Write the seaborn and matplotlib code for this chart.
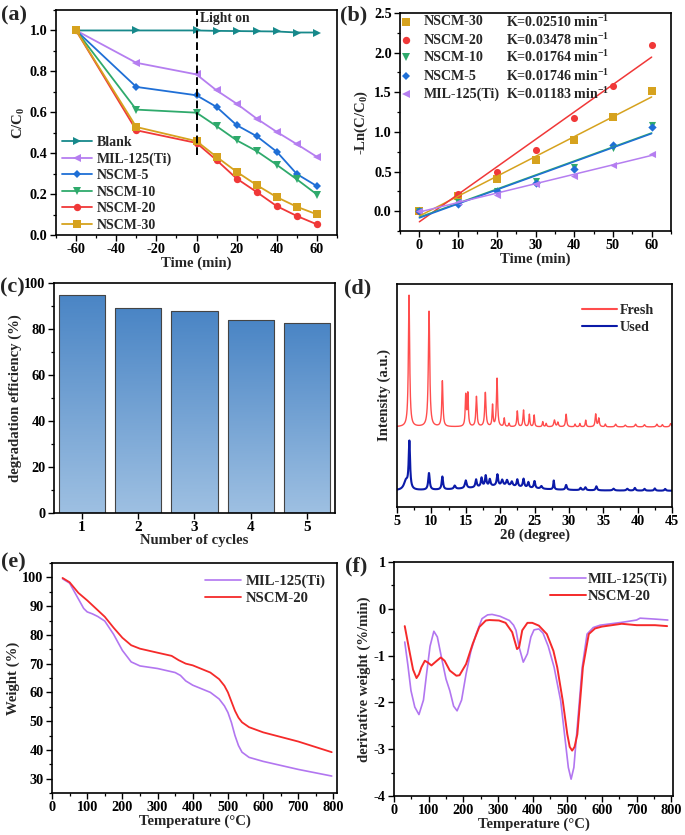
import numpy as np
import matplotlib

matplotlib.use("Agg")
import matplotlib.pyplot as plt
import seaborn as sns
from matplotlib.ticker import MultipleLocator
from matplotlib.colors import LinearSegmentedColormap

# ===================== (a) C/C0 vs time =====================
time_a = [-60, -30, 0, 10, 20, 30, 40, 50, 60]
blank_a = [1.0, 1.0, 1.0, 0.998, 0.997, 0.996, 0.995, 0.99, 0.99]
mil_a = [1.0, 0.842, 0.785, 0.707, 0.642, 0.569, 0.504, 0.444, 0.382]
nscm5_a = [1.0, 0.724, 0.683, 0.626, 0.537, 0.483, 0.407, 0.298, 0.239]
nscm10_a = [1.0, 0.613, 0.598, 0.532, 0.463, 0.410, 0.343, 0.272, 0.198]
nscm20_a = [1.0, 0.512, 0.450, 0.366, 0.276, 0.210, 0.141, 0.093, 0.052]
nscm30_a = [1.0, 0.528, 0.459, 0.382, 0.309, 0.244, 0.185, 0.138, 0.101]

# ===================== (b) kinetics =====================
time_b = [0, 10, 20, 30, 40, 50, 60]
nscm30_b = [0.0, 0.195, 0.40, 0.64, 0.90, 1.185, 1.51]
nscm20_b = [0.0, 0.22, 0.494, 0.77, 1.17, 1.58, 2.10]
nscm10_b = [0.0, 0.11, 0.25, 0.38, 0.56, 0.80, 1.09]
nscm5_b = [0.0, 0.088, 0.25, 0.36, 0.53, 0.84, 1.06]
mil_b = [0.0, 0.12, 0.21, 0.344, 0.45, 0.578, 0.725]
k_labels = ["K=0.02510 min$^{-1}$", "K=0.03478 min$^{-1}$", "K=0.01764 min$^{-1}$",
            "K=0.01746 min$^{-1}$", "K=0.01183 min$^{-1}$"]

# ===================== (c) recycling =====================
cycles = ["1", "2", "3", "4", "5"]
efficiency = [94.9, 89.0, 87.8, 83.9, 82.5]

# ===================== (d) XRD peak tables (2theta, height, half width) =====================
fresh_base = 35.9
fresh_pos = [6.75, 9.66, 11.6, 15.0, 15.3, 16.55, 17.85, 18.9, 19.55, 20.6, 21.3, 22.5, 23.4,
             24.25, 24.95, 26.2, 26.7, 27.9, 28.4, 29.6, 30.9, 31.6, 32.45, 33.9, 34.35, 35.3,
             36.8, 38.2, 39.7, 41.0, 42.8, 43.6, 44.8]
fresh_hgt = [59.0, 52.0, 20.5, 13.8, 14.5, 13.5, 15.3, 9.6, 21.7, 3.8, 1.5, 7.1, 7.5,
             5.6, 5.3, 2.3, 1.5, 3.0, 2.0, 5.7, 1.2, 1.5, 3.0, 5.7, 3.8, 1.2,
             1.2, 0.8, 1.2, 1.0, 1.2, 1.0, 1.5]
fresh_wid = [0.11, 0.12, 0.10, 0.09, 0.09, 0.10, 0.11, 0.08, 0.10, 0.08, 0.08, 0.09, 0.09,
             0.08, 0.08, 0.08, 0.08, 0.12, 0.10, 0.10, 0.08, 0.08, 0.08, 0.10, 0.10, 0.08,
             0.12, 0.12, 0.12, 0.12, 0.12, 0.10, 0.12]

used_base = 7.2
used_pos = [6.3, 6.8, 9.65, 11.6, 13.4, 15.0, 16.5, 17.3, 17.9, 18.5, 19.6, 20.3, 21.0, 21.7,
            22.5, 23.4, 24.1, 25.0, 26.0, 27.8, 29.6, 31.7, 32.4, 34.0, 36.5, 38.5, 39.6,
            41.0, 42.5, 44.0, 20.0]
used_hgt = [4.0, 21.0, 7.5, 5.8, 1.5, 3.5, 3.5, 4.0, 4.8, 3.0, 5.0, 2.5, 2.5, 2.0,
            3.2, 3.8, 2.5, 3.2, 1.2, 4.0, 2.2, 1.0, 1.3, 1.8, 0.8, 0.8, 1.2,
            0.8, 1.0, 0.8, 2.3]
used_wid = [0.35, 0.12, 0.13, 0.12, 0.15, 0.15, 0.12, 0.12, 0.12, 0.12, 0.12, 0.15, 0.15, 0.15,
            0.12, 0.12, 0.12, 0.12, 0.15, 0.08, 0.12, 0.12, 0.12, 0.12, 0.15, 0.15, 0.12,
            0.12, 0.12, 0.12, 5.0]

# ===================== (e) TGA =====================
tga_mil_t = [30, 50, 75, 90, 100, 115, 130, 150, 175, 200, 225, 250, 300, 350, 365, 380, 400,
             450, 475, 490, 500, 510, 520, 530, 540, 560, 600, 700, 795]
tga_mil_w = [99.5, 98.0, 92.5, 89.2, 88.0, 87.3, 86.4, 84.8, 80.2, 74.6, 70.6, 69.2, 68.3, 66.9,
             65.9, 64.0, 62.5, 60.0, 57.7, 55.3, 53.0, 49.5, 45.0, 41.5, 39.2, 37.4, 36.0, 33.2,
             30.9]
tga_nscm_t = [30, 50, 75, 100, 150, 175, 200, 225, 250, 300, 340, 360, 380, 400, 450, 475, 490,
              500, 510, 520, 530, 540, 560, 600, 700, 795]
tga_nscm_w = [99.8, 98.3, 94.6, 92.0, 86.3, 82.5, 79.0, 76.4, 75.2, 73.8, 72.7, 71.2, 70.0, 69.4,
              66.9, 64.6, 62.3, 60.0, 56.8, 53.6, 51.2, 49.6, 47.9, 46.1, 42.9, 39.2]

# ===================== (f) DTG =====================
dtg_mil_t = [31, 40, 49, 60, 72, 85, 94, 104, 115, 125, 137, 150, 161, 172, 182, 195, 208, 222,
             237, 254, 270, 283, 306, 333, 345, 352, 361, 373, 385, 395, 404, 418, 430, 445, 462,
             481, 492, 503, 511, 519, 527, 535, 543, 557, 575, 595, 657, 700, 710, 753, 790]
dtg_mil_v = [-0.71, -1.20, -1.75, -2.10, -2.26, -1.95, -1.39, -0.80, -0.48, -0.60, -1.04, -1.50,
             -1.75, -2.08, -2.18, -1.95, -1.39, -0.90, -0.54, -0.21, -0.13, -0.12, -0.16, -0.25,
             -0.35, -0.46, -0.82, -1.14, -0.96, -0.60, -0.45, -0.43, -0.52, -0.80, -1.25, -1.97,
             -2.68, -3.39, -3.64, -3.39, -2.68, -1.97, -1.25, -0.54, -0.40, -0.35, -0.29, -0.24,
             -0.20, -0.22, -0.24]
dtg_nscm_t = [31, 46, 55, 65, 72, 79, 89, 98, 108, 122, 135, 146, 161, 180, 189, 208, 227, 246,
              265, 275, 303, 322, 341, 355, 361, 370, 385, 399, 418, 441, 460, 471, 487, 500, 507,
              514, 521, 529, 537, 545, 562, 580, 600, 657, 700, 753, 788]
dtg_nscm_v = [-0.37, -0.96, -1.30, -1.48, -1.40, -1.25, -1.11, -1.15, -1.21, -1.12, -1.04, -1.11,
              -1.32, -1.43, -1.42, -1.18, -0.75, -0.39, -0.25, -0.24, -0.25, -0.30, -0.50, -0.86,
              -0.82, -0.46, -0.30, -0.30, -0.36, -0.54, -0.90, -1.25, -1.97, -2.68, -2.95, -3.03,
              -2.95, -2.68, -1.97, -1.25, -0.54, -0.42, -0.38, -0.32, -0.35, -0.35, -0.37]

# ===================== colours =====================
c_blank = "#17898b"
c_mil = "#b57ef0"
c_n5 = "#1f6fd6"
c_n10 = "#2faa6c"
c_n20 = "#f03838"
c_n30 = "#d6a21e"

sns.set_theme(style="ticks")
plt.rcParams.update({
    "font.family": ["Liberation Serif", "DejaVu Serif"],
    "font.weight": "bold",
    "axes.labelweight": "bold",
    "axes.unicode_minus": False,
    "mathtext.fontset": "custom",
    "mathtext.rm": "Liberation Serif:bold",
    "mathtext.it": "Liberation Serif:italic:bold",
    "mathtext.bf": "Liberation Serif:bold",
    "axes.linewidth": 1.2,
    "axes.edgecolor": "black",
    "xtick.color": "black",
    "ytick.color": "black",
    "xtick.major.size": 4,
    "ytick.major.size": 4,
    "xtick.minor.size": 2.2,
    "ytick.minor.size": 2.2,
    "xtick.major.width": 1.0,
    "ytick.major.width": 1.0,
    "xtick.minor.width": 0.9,
    "ytick.minor.width": 0.9,
    "xtick.major.pad": 2,
    "ytick.major.pad": 2,
    "xtick.labelsize": 10.3,
    "ytick.labelsize": 10.3,
    "axes.labelsize": 10.6,
    "legend.fontsize": 10,
    "legend.frameon": False,
})

W, H = 685, 835
fig = plt.figure(figsize=(W / 100, H / 100), dpi=100)


def box(l, r, t, b):
    return [l / W, 1 - b / H, (r - l) / W, (b - t) / H]


def style(ax, xmaj, xmin, ymaj, ymin):
    ax.xaxis.set_major_locator(MultipleLocator(xmaj))
    if xmin:
        ax.xaxis.set_minor_locator(MultipleLocator(xmin))
    if ymaj:
        ax.yaxis.set_major_locator(MultipleLocator(ymaj))
    if ymin:
        ax.yaxis.set_minor_locator(MultipleLocator(ymin))
    for s in ax.spines.values():
        s.set_visible(True)
        s.set_linewidth(1.2)
        s.set_color("black")
    ax.tick_params(which="both", top=False, right=False, direction="out")
    ax.set_facecolor("white")


# ---------- (a) ----------
ax = fig.add_axes(box(56, 337, 10, 235))
series_a = [("Blank", blank_a, c_blank, ">"), ("MIL-125(Ti)", mil_a, c_mil, "<"),
            ("NSCM-5", nscm5_a, c_n5, "D"), ("NSCM-10", nscm10_a, c_n10, "v"),
            ("NSCM-20", nscm20_a, c_n20, "o"), ("NSCM-30", nscm30_a, c_n30, "s")]
for name, vals, col, mk in series_a:
    ms = 4.3 if mk == "D" else 5.3
    sns.lineplot(x=time_a, y=vals, ax=ax, color=col, marker=mk, markersize=ms,
                 markeredgewidth=0, linewidth=1.3, label=name)
ax.plot([0, 0], [0.39, 1.1], color="black", linestyle=(0, (4, 2)), linewidth=1.4)
ax.text(1.8, 1.06, "Light on", fontsize=9.8, ha="left", va="center")
ax.set_xlim(-70, 70)
ax.set_ylim(0, 1.1)
ax.set_yticks([0.0, 0.2, 0.4, 0.6, 0.8, 1.0])
ax.set_yticklabels(["0.0", "0.2", "0.4", "0.6", "0.8", "1.0"])
style(ax, 20, 10, None, 0.1)
ax.set_xlabel("Time (min)", labelpad=0)
ax.set_ylabel("C/C$_0$", labelpad=2)
ax.legend(loc="lower left", bbox_to_anchor=(0.02, 0.015), borderaxespad=0, borderpad=0,
          handlelength=2.2, handletextpad=0.3, labelspacing=0.25)

# ---------- (b) ----------
ax = fig.add_axes(box(400, 671, 13, 231))
series_b = [("NSCM-30", nscm30_b, c_n30, "s"), ("NSCM-20", nscm20_b, c_n20, "o"),
            ("NSCM-10", nscm10_b, c_n10, "v"), ("NSCM-5", nscm5_b, c_n5, "D"),
            ("MIL-125(Ti)", mil_b, c_mil, "<")]
for name, vals, col, mk in series_b:
    sz = 18 if mk == "D" else 26
    sns.regplot(x=time_b, y=vals, ax=ax, ci=None, color=col, marker=mk,
                scatter_kws={"s": sz, "linewidths": 0, "alpha": 1},
                line_kws={"linewidth": 1.1})
rows = [0.959, 0.876, 0.798, 0.711, 0.628]
for (name, vals, col, mk), ky, yy in zip(series_b, k_labels, rows):
    ax.plot([0.022], [yy], marker=mk, color=col, markersize=4.3 if mk == "D" else 5.3,
            markeredgewidth=0, linestyle="none", transform=ax.transAxes)
    ax.text(0.089, yy, name, transform=ax.transAxes, fontsize=10.1, va="center")
    ax.text(0.391, yy, ky, transform=ax.transAxes, fontsize=10.1, va="center")
ax.set_xlim(-5, 65)
ax.set_ylim(-0.25, 2.5)
style(ax, 10, 5, 0.5, 0.25)
ax.set_xlabel("Time (min)", labelpad=0)
ax.set_ylabel("-Ln(C/C$_0$)", labelpad=3)

# ---------- (c) ----------
ax = fig.add_axes(box(54, 335, 283, 513))
sns.barplot(x=cycles, y=efficiency, ax=ax, width=0.82, color="#6f9fd3",
            edgecolor="#444444", linewidth=0.8)
bar_cmap = LinearSegmentedColormap.from_list("bar", ["#9ec0e2", "#4a85c5"])
grad = np.linspace(0, 1, 256).reshape(-1, 1)
for p in ax.patches:
    x0, y0, w, h = p.get_x(), p.get_y(), p.get_width(), p.get_height()
    im = ax.imshow(grad, extent=[x0, x0 + w, y0, y0 + h], origin="lower",
                   aspect="auto", cmap=bar_cmap, zorder=1)
    im.set_clip_path(p)
    p.set_facecolor("none")
    p.set_zorder(2)
ax.set_xlim(-0.5, 4.5)
ax.set_ylim(0, 100)
style(ax, 1, None, 20, 10)
ax.tick_params(axis="x", labelsize=11)
ax.set_xlabel("Number of cycles", labelpad=0)
ax.set_ylabel("degradation efficiency (%)", labelpad=2)

# ---------- (d) ----------
ax = fig.add_axes(box(397, 672, 284, 507))
two_theta = np.linspace(5, 45, 2400)


def xrd(base, pos, hgt, wid):
    y = np.full_like(two_theta, base)
    for p0, h0, w0 in zip(pos, hgt, wid):
        y = y + h0 / (1 + ((two_theta - p0) / w0) ** 2)
    return y


sns.lineplot(x=two_theta, y=xrd(fresh_base, fresh_pos, fresh_hgt, fresh_wid), ax=ax,
             color="#ff4d4d", linewidth=1.0, label="Fresh", estimator=None)
sns.lineplot(x=two_theta, y=xrd(used_base, used_pos, used_hgt, used_wid), ax=ax,
             color="#0b1aa8", linewidth=1.5, label="Used", estimator=None)
ax.set_xlim(5, 45)
ax.set_ylim(0, 100)
style(ax, 5, 2.5, None, None)
ax.set_yticks([])
ax.set_xlabel("2θ (degree)", labelpad=0)
ax.set_ylabel("Intensity (a.u.)", labelpad=4)
leg = ax.legend(loc="upper right", bbox_to_anchor=(0.935, 0.91), borderaxespad=0, borderpad=0,
                handlelength=2.5, handletextpad=0.2, labelspacing=0.28, fontsize=10.2)
for ln in leg.get_lines():
    ln.set_linewidth(1.5)

# ---------- (e) ----------
ax = fig.add_axes(box(52, 337, 563, 793))
sns.lineplot(x=tga_mil_t, y=tga_mil_w, ax=ax, color="#b276f0", linewidth=1.2, label="MIL-125(Ti)")
sns.lineplot(x=tga_nscm_t, y=tga_nscm_w, ax=ax, color="#f52a2a", linewidth=1.3, label="NSCM-20")
ax.set_xlim(0, 810)
ax.set_ylim(25, 105)
style(ax, 100, 50, 10, 5)
ax.set_xlabel("Temperature (°C)", labelpad=0)
ax.set_ylabel("Weight (%)", labelpad=2)
ax.legend(loc="upper right", bbox_to_anchor=(0.961, 0.948), borderaxespad=0, borderpad=0,
          handlelength=2.4, handletextpad=0.35, labelspacing=0.24, fontsize=10.6)

# ---------- (f) ----------
ax = fig.add_axes(box(394, 673, 562, 796))
sns.lineplot(x=dtg_mil_t, y=dtg_mil_v, ax=ax, color="#b276f0", linewidth=1.2, label="MIL-125(Ti)")
sns.lineplot(x=dtg_nscm_t, y=dtg_nscm_v, ax=ax, color="#f52a2a", linewidth=1.4, label="NSCM-20")
ax.set_xlim(0, 805)
ax.set_ylim(-4, 1)
style(ax, 100, 50, 1, 0.5)
ax.set_xlabel("Temperature (°C)", labelpad=0)
ax.set_ylabel("derivative weight (%/min)", labelpad=2)
ax.legend(loc="upper right", bbox_to_anchor=(0.982, 0.953), borderaxespad=0, borderpad=0,
          handlelength=2.4, handletextpad=0.15, labelspacing=0.24, fontsize=10.6)

# ---------- panel labels ----------
for lab, px, py in [("(a)", 1, 15), ("(b)", 340, 15), ("(c)", 0, 287), ("(d)", 344, 288),
                    ("(e)", 1, 562), ("(f)", 345, 566)]:
    fig.text(px / W, 1 - py / H, lab, fontsize=16, fontweight="bold", va="center", ha="left")

fig.savefig("out.png", dpi=100)
plt.close(fig)
